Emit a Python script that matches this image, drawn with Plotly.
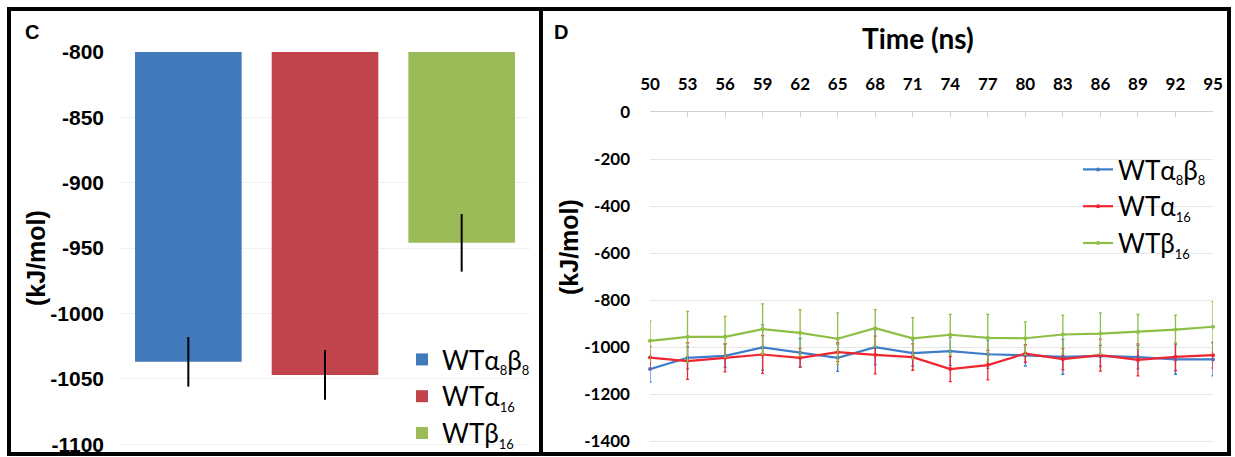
import plotly.graph_objects as go

# ---------- Panel C data ----------
bar_names = ["WTα<sub><span style='font-size:13px'>8</span></sub>β<sub><span style='font-size:13px'>8</span></sub>",
             "WTα<sub><span style='font-size:13px'>16</span></sub>",
             "WTβ<sub><span style='font-size:13px'>16</span></sub>"]
bar_cats = ["a8b8", "a16", "b16"]
bar_values = [-1037, -1047, -946]
bar_errors = [19, 19, 22]
bar_colors = ["#4279BA", "#C0444A", "#9BBB59"]
bar_yticks = [-800, -850, -900, -950, -1000, -1050, -1100]

# ---------- Panel D data ----------
time_ns = [50, 53, 56, 59, 62, 65, 68, 71, 74, 77, 80, 83, 86, 89, 92, 95]
wt_a8b8 = [-1093, -1045, -1037, -1001, -1023, -1045, -1000, -1025, -1017, -1030, -1035, -1041, -1037, -1042, -1052, -1052]
wt_a8b8_err = [55, 47, 49, 96, 60, 58, 74, 56, 60, 60, 45, 74, 45, 50, 63, 70]
wt_a16 = [-1044, -1059, -1045, -1031, -1045, -1021, -1033, -1042, -1093, -1076, -1027, -1051, -1034, -1054, -1041, -1034]
wt_a16_err = [48, 78, 60, 80, 40, 40, 80, 56, 53, 63, 37, 45, 68, 68, 58, 55]
wt_b16 = [-973, -956, -956, -923, -939, -964, -919, -962, -947, -960, -962, -946, -942, -935, -925, -913]
wt_b16_err = [85, 108, 87, 107, 99, 110, 79, 88, 87, 100, 70, 82, 88, 74, 61, 106]
line_colors = ["#3F7DC8", "#F02530", "#8DBF45"]
line_yticks = [0, -200, -400, -600, -800, -1000, -1200, -1400]

W, H = 1235, 457

fig = go.Figure()

# Bars (panel C)
for name, cat, val, err, col in zip(bar_names, bar_cats, bar_values, bar_errors, bar_colors):
    fig.add_trace(go.Bar(
        x=[cat], y=[val], name=name, marker=dict(color=col, line=dict(width=0)),
        width=0.78,
        error_y=dict(type="data", array=[err], color="black", thickness=2, width=0),
        xaxis="x", yaxis="y", legend="legend",
    ))

# Lines (panel D)
for name, ys, errs, col in zip(bar_names, [wt_a8b8, wt_a16, wt_b16],
                               [wt_a8b8_err, wt_a16_err, wt_b16_err], line_colors):
    fig.add_trace(go.Scatter(
        x=time_ns, y=ys, name=name, mode="lines+markers",
        line=dict(color=col, width=2.2), marker=dict(color=col, size=4),
        error_y=dict(type="data", array=errs, color=col, thickness=1.3, width=1.5),
        cliponaxis=False,
        xaxis="x2", yaxis="y2", legend="legend2",
    ))

fig.update_layout(
    width=W, height=H,
    margin=dict(l=0, r=0, t=0, b=0, autoexpand=False),
    paper_bgcolor="white", plot_bgcolor="white",
    barmode="overlay",
    font=dict(family="Liberation Sans, Arial", color="black"),
    xaxis=dict(domain=[120 / W, 530 / W], range=[-0.5, 2.5], showticklabels=False,
               showgrid=False, zeroline=False, showline=False, ticks="", automargin=False),
    yaxis=dict(domain=[1 - 452 / H, 1 - 52 / H], range=[-1106, -800],
               tickvals=bar_yticks, ticktext=[str(v) for v in bar_yticks],
               tickfont=dict(family="Liberation Sans, Arial", size=21, color="black", weight="bold"),
               ticklabelstandoff=15, automargin=False,
               showgrid=True, gridcolor="#F0F0F0", gridwidth=1, zeroline=False, showline=False),
    xaxis2=dict(domain=[650 / W, 1213 / W], range=[50, 95], side="top", anchor="y2",
                tickvals=time_ns, ticktext=[str(t) for t in time_ns],
                tickfont=dict(family="Lato", size=17, color="black", weight="bold"),
                ticks="inside", ticklen=5, tickcolor="#D0D0D0",
                showgrid=False, zeroline=False, showline=True, linecolor="#D0D0D0", linewidth=1,
                ticklabelstandoff=14, automargin=False),
    yaxis2=dict(domain=[1 - 446 / H, 1 - 112 / H], range=[-1420, 0], anchor="x2",
                tickvals=line_yticks, ticktext=[str(v) for v in line_yticks],
                tickfont=dict(family="Lato", size=17, color="black", weight="bold"),
                ticklabelstandoff=19, automargin=False,
                showgrid=True, gridcolor="#E6E6E6", gridwidth=1, zeroline=False, showline=False),
    legend=dict(x=402 / W, y=1 - 336 / H, xanchor="left", yanchor="top",
                bgcolor="rgba(0,0,0,0)", font=dict(family="Lato", size=26),
                itemwidth=30, tracegroupgap=0),
    legend2=dict(x=1078 / W, y=1 - 146 / H, xanchor="left", yanchor="top",
                 bgcolor="rgba(0,0,0,0)", font=dict(family="Lato", size=26),
                 itemwidth=30, tracegroupgap=0),
    showlegend=True,
)

# Panel borders
fig.add_shape(type="rect", xref="paper", yref="paper",
              x0=9 / W, x1=541 / W, y0=1 - 454 / H, y1=1 - 9 / H,
              line=dict(color="black", width=4), layer="above")
fig.add_shape(type="rect", xref="paper", yref="paper",
              x0=541 / W, x1=1229 / W, y0=1 - 454 / H, y1=1 - 9 / H,
              line=dict(color="black", width=4), layer="above")

# Panel letters
fig.add_annotation(text="<b>C</b>", xref="paper", yref="paper", x=23 / W, y=1 - 32 / H,
                   xanchor="left", yanchor="middle", showarrow=False,
                   font=dict(family="Liberation Sans, Arial", size=20))
fig.add_annotation(text="<b>D</b>", xref="paper", yref="paper", x=552 / W, y=1 - 32 / H,
                   xanchor="left", yanchor="middle", showarrow=False,
                   font=dict(family="Liberation Sans, Arial", size=20))

# Axis titles
fig.add_annotation(text="<b>(kJ/mol)</b>", xref="paper", yref="paper", x=36 / W, y=1 - 258 / H,
                   xanchor="center", yanchor="middle", showarrow=False, textangle=-90,
                   font=dict(family="Liberation Sans, Arial", size=25))
fig.add_annotation(text="<b>(kJ/mol)</b>", xref="paper", yref="paper", x=569 / W, y=1 - 247 / H,
                   xanchor="center", yanchor="middle", showarrow=False, textangle=-90,
                   font=dict(family="Liberation Sans, Arial", size=25))
fig.add_annotation(text="<b>Time (ns)</b>", xref="paper", yref="paper", x=918 / W, y=1 - 38 / H,
                   xanchor="center", yanchor="middle", showarrow=False,
                   font=dict(family="Lato", size=28))

fig.write_html("out.html", config={"displayModeBar": False},
               post_script="document.body.style.margin='0px';document.body.style.overflow='hidden';")
